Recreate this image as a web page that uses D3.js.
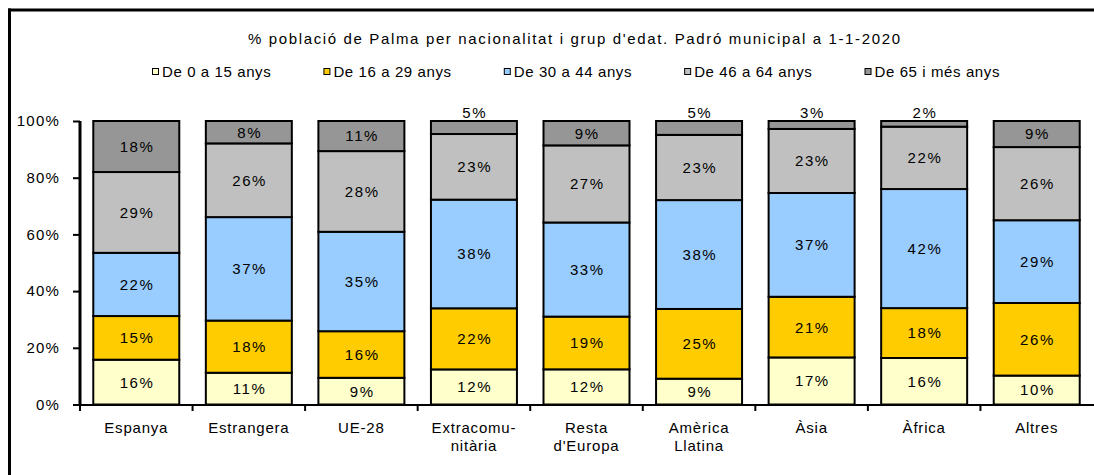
<!DOCTYPE html>
<html>
<head>
<meta charset="utf-8">
<script src="https://cdn.jsdelivr.net/npm/d3@7"></script>
<style>
  html, body { margin: 0; padding: 0; background: #fff; }
  svg { display: block; }
  text { font-family: "Liberation Sans", Arial, sans-serif; fill: #000; }
</style>
</head>
<body>
<svg id="chart" width="1094" height="475"></svg>
<script>
// ---- DATA ----
const title = "% població de Palma per nacionalitat i grup d'edat. Padró municipal a 1-1-2020";
const categories = ["Espanya", "Estrangera", "UE-28", "Extracomu-\nnitària", "Resta\nd'Europa", "Amèrica\nLlatina", "Àsia", "Àfrica", "Altres"];
const seriesNames = ["De 0 a 15 anys", "De 16 a 29 anys", "De 30 a 44 anys", "De 46 a 64 anys", "De 65 i més anys"];
const seriesColors = ["#FFFFCC", "#FFCC00", "#99CCFF", "#C0C0C0", "#969696"];
const age0_15  = [15.8, 11.2,  9.4, 12.4, 12.4,  9.1, 16.6, 16.4, 10.2];
const age16_29 = [15.4, 18.4, 16.4, 21.6, 18.6, 24.6, 21.4, 17.6, 25.6];
const age30_44 = [22.3, 36.5, 35.0, 38.4, 33.2, 38.4, 36.6, 42.0, 29.2];
const age46_64 = [28.5, 26.0, 28.4, 23.2, 27.2, 23.0, 22.6, 22.0, 25.8];
const age65    = [18.0,  7.9, 10.6,  4.6,  8.6,  4.9,  2.8,  2.0,  9.2];
const yTicks = [0, 0.2, 0.4, 0.6, 0.8, 1.0];

// ---- LAYOUT ----
const svg = d3.select("#chart");
const X0 = 80, X1 = 1093, Y0 = 404.5, Y1 = 121;
const FS = 15;

const seriesData = [age0_15, age16_29, age30_44, age46_64, age65];
const rows = categories.map((c, i) => {
  const r = { cat: c };
  seriesNames.forEach((s, k) => r[s] = seriesData[k][i]);
  return r;
});
const stack = d3.stack().keys(seriesNames).offset(d3.stackOffsetExpand);
const layers = stack(rows);

const x = d3.scaleBand().domain(categories).range([X0, X1]).paddingInner(0.236).paddingOuter(0.118);
const y = d3.scaleLinear().domain([0, 1]).range([Y0, Y1]);
const color = d3.scaleOrdinal().domain(seriesNames).range(seriesColors);

// frame
svg.append("line").attr("x1", 8).attr("x2", 1094).attr("y1", 10).attr("y2", 10)
  .attr("stroke", "#000").attr("stroke-width", 3);
svg.append("line").attr("x1", 9.5).attr("x2", 9.5).attr("y1", 8.5).attr("y2", 475)
  .attr("stroke", "#000").attr("stroke-width", 3);

// title
svg.append("text").attr("x", 574).attr("y", 44).attr("text-anchor", "middle")
  .attr("font-size", FS).attr("textLength", 652).attr("lengthAdjust", "spacing")
  .text(title);

// legend
const leg = svg.append("g");
const items = leg.selectAll("g").data(seriesNames).join("g");
items.append("rect").attr("width", 6).attr("height", 6).attr("y", 68.5)
  .attr("fill", d => color(d)).attr("stroke", "#000").attr("stroke-width", 1);
items.append("text").attr("y", 76.5).attr("font-size", FS).attr("letter-spacing", 0.6).text(d => d);
const widths = [];
items.select("text").each(function () { widths.push(this.getComputedTextLength()); });
const legStart = 152, legEnd = 1000;
const itemW = widths.map(w => 6 + 4 + w);
const gap = (legEnd - legStart - d3.sum(itemW)) / (seriesNames.length - 1);
let cx = legStart;
items.each(function (d, i) {
  const g = d3.select(this);
  g.select("rect").attr("x", cx + 0.5);
  g.select("text").attr("x", cx + 10);
  cx += itemW[i] + gap;
});

// bars
const gBars = svg.append("g");
layers.forEach(layer => {
  gBars.selectAll(null).data(layer).join("rect")
    .attr("x", d => x(d.data.cat))
    .attr("width", x.bandwidth())
    .attr("y", d => y(d[1]))
    .attr("height", d => y(d[0]) - y(d[1]))
    .attr("fill", color(layer.key))
    .attr("stroke", "#000").attr("stroke-width", 2);
});

// data labels
layers.forEach(layer => {
  gBars.selectAll(null).data(layer).join("text")
    .attr("x", d => x(d.data.cat) + x.bandwidth() / 2 + 0.8)
    .attr("y", d => {
      const h = y(d[0]) - y(d[1]);
      return h < 16 ? y(d[1]) - 8 : (y(d[0]) + y(d[1])) / 2;
    })
    .attr("dy", "0.36em")
    .attr("text-anchor", "middle")
    .attr("font-size", FS).attr("letter-spacing", 1.6)
    .text(d => Math.round(d.data[layer.key]) + "%");
});

// y axis
const yAxis = svg.append("g").attr("transform", `translate(${X0},0)`)
  .call(d3.axisLeft(y).tickValues(yTicks).tickFormat(d3.format(".0%")).tickSize(7).tickSizeOuter(0).tickPadding(13));
yAxis.select(".domain").attr("stroke-width", 3).attr("d", `M0,${Y1}V${Y0 + 1}`);
yAxis.selectAll(".tick line").attr("stroke-width", 2);
yAxis.selectAll(".tick text").attr("font-size", FS).attr("letter-spacing", 1.2)
  .attr("font-family", "Liberation Sans, Arial, sans-serif");

// x axis
const xAxis = svg.append("g").attr("transform", `translate(0,${Y0 + 0.5})`);
xAxis.append("line").attr("x1", X0).attr("x2", X1 + 1).attr("y1", 0).attr("y2", 0)
  .attr("stroke", "#000").attr("stroke-width", 2);
xAxis.selectAll(null).data(d3.range(categories.length)).join("line")
  .attr("x1", i => X0 + i * x.step()).attr("x2", i => X0 + i * x.step())
  .attr("y1", 0).attr("y2", 6).attr("stroke", "#000").attr("stroke-width", 2);

const xl = svg.append("g");
categories.forEach(c => {
  const t = xl.append("text").attr("text-anchor", "middle").attr("font-size", FS).attr("letter-spacing", 0.8)
    .attr("x", x(c) + x.bandwidth() / 2).attr("y", 433);
  c.split("\n").forEach((line, j) => {
    t.append("tspan").attr("x", x(c) + x.bandwidth() / 2).attr("dy", j === 0 ? 0 : 18).text(line);
  });
});
</script>
</body>
</html>
